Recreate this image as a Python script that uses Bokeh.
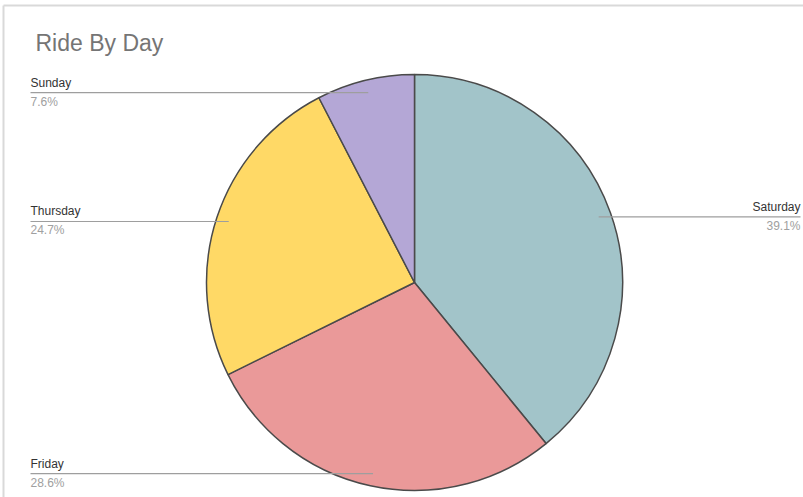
import math
from bokeh.plotting import figure
from bokeh.models import Range1d, ColumnDataSource
from bokeh.core.properties import value
from bokeh.embed import file_html
from bokeh.resources import INLINE

days = ["Saturday", "Friday", "Thursday", "Sunday"]
shares = [39.1, 28.6, 24.7, 7.6]
colors = ["#a2c4c9", "#ea9999", "#ffd966", "#b4a7d6"]

W, H = 803, 497
cx, cy, R = 414, H - 282, 208

total = sum(shares)
starts, ends, ax, ay, sides = [], [], [], [], []
cum = 0.0
for s in shares:
    f0 = cum / total
    f1 = (cum + s) / total
    starts.append(math.pi / 2 - f0 * 2 * math.pi)
    ends.append(math.pi / 2 - f1 * 2 * math.pi)
    mid = (f0 + f1) / 2 * 2 * math.pi
    ax.append(cx + 0.94 * R * math.sin(mid))
    ay.append(cy + 0.94 * R * math.cos(mid))
    sides.append("right" if math.sin(mid) > 0 else "left")
    cum += s

p = figure(width=W, height=H, output_backend="svg", toolbar_location=None,
           x_range=Range1d(0, W), y_range=Range1d(0, H), min_border=0)
p.axis.visible = False
p.grid.visible = False
p.outline_line_color = None
p.background_fill_color = "white"

# frame lines of screenshot
p.segment(x0=[3, 3], y0=[0, H - 5], x1=[3, W], y1=[H - 5, H - 5],
          line_color="#d9d9d9", line_width=2)

src = ColumnDataSource(dict(start=starts, end=ends, color=colors))
p.wedge(x=cx, y=cy, radius=R, start_angle="start", end_angle="end",
        direction="clock", fill_color="color", line_color="#4a4a4a",
        line_width=1.5, source=src)

lx0, lx1, ly, nx, ny, px_, py_, aligns = [], [], [], [], [], [], [], []
for i in range(len(days)):
    if sides[i] == "left":
        end_x = 30
        al = "left"
    else:
        end_x = 800
        al = "right"
    lx0.append(ax[i]); lx1.append(end_x); ly.append(ay[i])
    nx.append(end_x); ny.append(ay[i] + 3)
    px_.append(end_x); py_.append(ay[i] - 2)
    aligns.append(al)

p.segment(x0=lx0, y0=ly, x1=lx1, y1=ly, line_color="#9e9e9e", line_width=1.2)

lab = ColumnDataSource(dict(nx=nx, ny=ny, px=px_, py=py_, align=aligns,
                            name=days, pct=[f"{s:.1f}%" for s in shares]))
p.text(x="nx", y="ny", text="name", text_align="align", text_baseline="bottom",
       text_font=value("Liberation Sans"), text_font_size="12px",
       text_color="#333333", source=lab)
p.text(x="px", y="py", text="pct", text_align="align", text_baseline="top",
       text_font=value("Liberation Sans"), text_font_size="12px",
       text_color="#a0a0a0", source=lab)

p.text(x=[35], y=[H - 42], text=["Ride By Day"], text_baseline="middle",
       text_font=value("Liberation Sans"), text_font_size="23px",
       text_color="#757575")

open("out.html", "w").write(file_html(p, INLINE))
